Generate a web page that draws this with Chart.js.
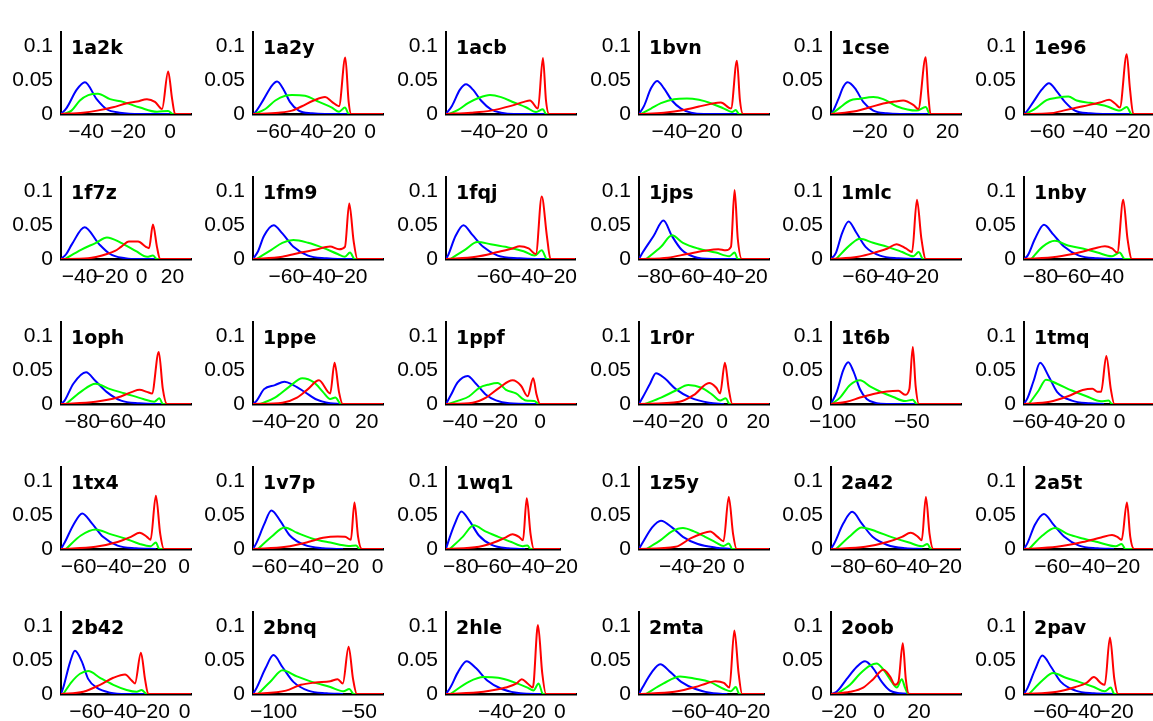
<!DOCTYPE html>
<html>
<head>
<meta charset="utf-8">
<script src="https://cdn.jsdelivr.net/npm/chart.js@4.4.1/dist/chart.umd.min.js"></script>
<style>
  html, body { margin: 0; padding: 0; background: #fff; overflow: hidden; }
  #grid { position: relative; width: 1153px; height: 721px; }
  #grid canvas { position: absolute; }
</style>
</head>
<body>
<div id="grid"></div>
<script>
const panels = ['1a2k', '1a2y', '1acb', '1bvn', '1cse', '1e96',
    '1f7z', '1fm9', '1fqj', '1jps', '1mlc', '1nby',
    '1oph', '1ppe', '1ppf', '1r0r', '1t6b', '1tmq',
    '1tx4', '1v7p', '1wq1', '1z5y', '2a42', '2a5t',
    '2b42', '2bnq', '2hle', '2mta', '2oob', '2pav'];

const xRanges = [[-52, 10], [-73, 8], [-60, 21], [-58, 19], [-40, 27], [-71, -10],
    [-52, 32], [-81, 1], [-90, -10], [-90, -8], [-79, 6], [-90, -11],
    [-93, -14], [-50, 30], [-47, 18], [-46, 26], [-101, -19], [-64, 23],
    [-70, 4], [-69, 3], [-89, -20], [-64.5, 19.5], [-90.5, -10], [-76, -2],
    [-76, 4], [-112, -36], [-71, 10], [-91.5, -12.7], [-24, 41], [-76.6, 3.4]];

const xTicks = [[-40, -20, 0], [-60, -40, -20, 0], [-40, -20, 0], [-40, -20, 0], [-20, 0, 20], [-60, -40, -20],
    [-40, -20, 0, 20], [-60, -40, -20], [-60, -40, -20], [-80, -60, -40, -20], [-60, -40, -20], [-80, -60, -40],
    [-80, -60, -40], [-40, -20, 0, 20], [-40, -20, 0], [-40, -20, 0, 20], [-100, -50], [-60, -40, -20, 0],
    [-60, -40, -20, 0], [-60, -40, -20, 0], [-80, -60, -40, -20], [-40, -20, 0], [-80, -60, -40, -20], [-60, -40, -20],
    [-60, -40, -20, 0], [-100, -50], [-40, -20, 0], [-60, -40, -20], [-20, 0, 20], [-60, -40, -20]];

const yTicks = [0, 0.05, 0.1];

const blue = [
    [[-52,0],[-49.3,0.009],[-44.5,0.036],[-40.6,0.047],[-35,0.022],[-30.2,0.007],[-24,0.002],[-14,0],[2,0]],
    [[-73,0],[-71.8,0.002],[-66.3,0.022],[-61.2,0.042],[-58,0.048],[-53.9,0.036],[-50,0.018],[-44.5,0.005],[-36.2,0.001],[-28,0],[-12,0]],
    [[-60,0],[-56.3,0.012],[-51.3,0.036],[-47.5,0.044],[-43.2,0.036],[-38.2,0.02],[-32,0.007],[-25.7,0.002],[-17.6,0],[2,0]],
    [[-58,0],[-55,0.012],[-50.9,0.038],[-47.3,0.049],[-43.2,0.038],[-38.5,0.02],[-33.1,0.008],[-27.2,0.002],[-19.5,0],[1,0]],
    [[-40,0],[-39.6,0.001],[-36.2,0.022],[-33.7,0.04],[-31.4,0.047],[-27.6,0.038],[-23.4,0.018],[-18.2,0.005],[-11.3,0.001],[-4.5,0],[11,0]],
    [[-71,0],[-70.5,0.001],[-66.6,0.018],[-62.7,0.036],[-59.3,0.0457],[-55.7,0.034],[-51.8,0.018],[-47.1,0.005],[-40,0.001],[-34,0],[-20,0]],
    [[-52,0],[-48.7,0.007],[-44.9,0.022],[-36.8,0.047],[-27.4,0.022],[-20.3,0.0074],[-10.6,0.001],[-6.6,0],[10.2,0]],
    [[-81,0],[-77.8,0.0115],[-74.1,0.034],[-68,0.05],[-62.5,0.038],[-55.5,0.018],[-46.3,0.005],[-34.7,0.001],[-27.4,0],[-12.9,0]],
    [[-90,0],[-88.8,0.005],[-84.1,0.034],[-79.2,0.05],[-73.8,0.036],[-67,0.018],[-58,0.005],[-44.5,0.001],[-34.6,0],[-24.8,0]],
    [[-90,0],[-87.7,0.0095],[-80.8,0.034],[-74.6,0.057],[-69.2,0.034],[-63.1,0.0136],[-55.4,0.0033],[-43.7,0],[-27.7,0]],
    [[-79,0],[-75.7,0.0095],[-71.8,0.038],[-67.5,0.0556],[-62.7,0.04],[-56.4,0.018],[-47,0.005],[-34.8,0.001],[-23.4,0],[-16.2,0]],
    [[-90,0],[-87.8,0.005],[-83.3,0.03],[-77.9,0.0506],[-72.1,0.036],[-65.5,0.018],[-56.6,0.005],[-45.4,0.001],[-35.3,0],[-28,0]],
    [[-93,0],[-90.8,0.005],[-85.5,0.03],[-77.8,0.047],[-72,0.034],[-65.3,0.018],[-56.5,0.005],[-45.3,0.001],[-35.2,0],[-30.5,0]],
    [[-50,0],[-47.7,0.005],[-43.2,0.022],[-36.5,0.028],[-30.6,0.033],[-25.2,0.028],[-18.3,0.018],[-11.6,0.0074],[-2.5,0.001],[4,0]],
    [[-47,0],[-44.5,0.0136],[-41.2,0.032],[-36.2,0.0416],[-32,0.03],[-27,0.0136],[-22,0.0053],[-15.4,0.0012],[-0.5,0]],
    [[-46,0],[-44,0.0095],[-39.9,0.03],[-36.6,0.0457],[-31.8,0.038],[-25.6,0.022],[-17.5,0.0095],[-7.2,0.002],[1,0]],
    [[-101,0],[-97.4,0.0177],[-93.2,0.0506],[-90.1,0.0617],[-86.9,0.0486],[-82.7,0.0218],[-78.5,0.0074],[-72.2,0.0012],[-65.9,0],[-46,0]],
    [[-64,0],[-61.5,0.0095],[-57.6,0.034],[-53.2,0.061],[-47.7,0.042],[-41.9,0.018],[-32,0.005],[-19.8,0.001],[-10.5,0]],
    [[-70,0],[-67.9,0.0095],[-62.9,0.036],[-57.9,0.0527],[-52.4,0.038],[-46.1,0.018],[-37.8,0.005],[-27.3,0.001],[-16,0]],
    [[-69,0],[-67,0.0095],[-62.9,0.036],[-58.8,0.057],[-54,0.042],[-48.6,0.02],[-40.5,0.006],[-30.2,0.001],[-19.1,0]],
    [[-89,0],[-87.8,0.0095],[-83.9,0.036],[-79.7,0.0556],[-74.9,0.042],[-69.1,0.02],[-61.4,0.006],[-51.5,0.001],[-41.2,0]],
    [[-64.5,0],[-62.1,0.0095],[-56,0.032],[-50.3,0.042],[-43.2,0.032],[-36.1,0.018],[-26.5,0.0074],[-14.7,0.002],[-5.1,0]],
    [[-90.5,0],[-88.2,0.0095],[-82.8,0.038],[-77.3,0.055],[-71.4,0.038],[-64.6,0.018],[-55.4,0.006],[-44,0.001],[-33.6,0]],
    [[-76,0],[-73.9,0.0095],[-69.8,0.036],[-64.7,0.052],[-59.2,0.036],[-53,0.018],[-44.7,0.005],[-34.2,0.001],[-24.8,0]],
    [[-76,0],[-74.6,0.0095],[-70.5,0.0465],[-67.4,0.064],[-63.3,0.0486],[-59.2,0.022],[-54,0.0095],[-45.9,0.002],[-35.6,0],[-22,0]],
    [[-112,0],[-109.8,0.0095],[-104.7,0.038],[-100,0.0576],[-94.8,0.04],[-88.4,0.018],[-79.8,0.005],[-69,0.001],[-59.3,0]],
    [[-71,0],[-68.3,0.0095],[-63.6,0.032],[-58.2,0.0486],[-52.2,0.038],[-45.3,0.02],[-36.2,0.0074],[-24.7,0.001],[-11.8,0]],
    [[-91.5,0],[-89.3,0.0095],[-83.5,0.032],[-78.2,0.044],[-71.5,0.032],[-64.9,0.018],[-55.9,0.0074],[-44.7,0.001],[-35.8,0]],
    [[-24,0],[-21.2,0.0033],[-16.2,0.022],[-11.2,0.04],[-7,0.0486],[-2.9,0.038],[1.4,0.018],[5.5,0.005],[10.5,0.001],[16,0]],
    [[-76.6,0],[-74.3,0.0095],[-69.8,0.036],[-65.3,0.057],[-59.9,0.04],[-53.9,0.018],[-44.9,0.005],[-33.6,0.001],[-21.2,0]]
];

const green = [
    [[-51,0],[-47,0.005],[-43,0.02],[-39,0.028],[-34.4,0.03],[-28.6,0.022],[-22.4,0.018],[-14.3,0.0095],[-6.2,0.0033],[-0.9,0.0045],[1.4,0],[10,0]],
    [[-72,0],[-65.3,0.0074],[-59.1,0.02],[-52.9,0.027],[-48.7,0.028],[-40.6,0.027],[-31.9,0.018],[-23.8,0.0095],[-19.4,0.0033],[-15.7,0.0095],[-13.2,0],[8,0]],
    [[-58.1,0],[-52.5,0.006],[-46.3,0.016],[-39.4,0.024],[-32.6,0.028],[-25.7,0.025],[-17.6,0.017],[-10.2,0.01],[-3.9,0.003],[0.4,0.007],[2.3,0],[21,0]],
    [[-56.8,0],[-50.9,0.008],[-45,0.016],[-37.3,0.022],[-29.6,0.023],[-22.5,0.021],[-15.4,0.016],[-7.7,0.008],[-2.9,0.003],[-0.6,0.006],[1.2,0],[19,0]],
    [[-39.6,0],[-35.4,0.0095],[-30.2,0.02],[-25.1,0.0226],[-18.2,0.025],[-13.1,0.022],[-6.2,0.0115],[4.1,0.005],[8.8,0.0103],[11,0],[27,0]],
    [[-70.1,0],[-65,0.0095],[-60.4,0.0206],[-55.7,0.024],[-50.2,0.026],[-46.3,0.02],[-40,0.0165],[-32.2,0.0115],[-26,0.005],[-22.8,0.0103],[-20.5,0],[-10,0]],
    [[-49.4,0],[-39.1,0.0136],[-29.4,0.024],[-22.3,0.032],[-13.2,0.024],[-3.5,0.0115],[3.6,0.0033],[7.4,0.005],[10,0],[32,0]],
    [[-78.7,0],[-69.4,0.0136],[-62.5,0.024],[-55.5,0.028],[-46.3,0.024],[-36.8,0.0165],[-27.6,0.0074],[-23,0.0033],[-19.8,0.0095],[-16.9,0],[1,0]],
    [[-87.3,0],[-78.3,0.0136],[-70.6,0.025],[-62.4,0.022],[-53.3,0.018],[-42,0.0115],[-35.2,0.005],[-30.8,0.0128],[-27.6,0],[-10,0]],
    [[-85.4,0],[-76.1,0.018],[-69.2,0.035],[-62.3,0.024],[-52.8,0.0156],[-41.5,0.0095],[-33,0.0041],[-29.7,0.0095],[-27.7,0],[-8,0]],
    [[-75.7,0],[-65.9,0.022],[-60.2,0.03],[-51.5,0.024],[-42,0.018],[-32.4,0.0103],[-25.1,0.0041],[-21.7,0.0103],[-18.8,0],[6,0]],
    [[-85.5,0],[-78.8,0.018],[-71.2,0.027],[-63.3,0.02],[-54.3,0.0156],[-45.4,0.0095],[-36.5,0.0041],[-31.9,0.0095],[-28.8,0],[-11,0]],
    [[-89.9,0],[-81,0.018],[-72,0.03],[-63.1,0.022],[-54.1,0.0156],[-43,0.0074],[-36.3,0.0033],[-33.2,0.0086],[-31.1,0],[-14,0]],
    [[-45.4,0],[-36.5,0.0095],[-27.4,0.026],[-19.7,0.038],[-12.5,0.032],[-7,0.018],[-2.5,0.0074],[0.7,0.0095],[4.1,0],[30,0]],
    [[-46.2,0],[-40.4,0.0053],[-35.4,0.0115],[-30.4,0.024],[-25.4,0.029],[-21.2,0.031],[-17,0.021],[-12,0.0156],[-7,0.0053],[-2.9,0.0045],[-0.4,0],[18,0]],
    [[-42.7,0],[-33.8,0.0095],[-25.6,0.02],[-18.7,0.028],[-11.4,0.024],[-5.3,0.0136],[-1.1,0.0053],[2.1,0.0086],[4.1,0],[26,0]],
    [[-100.6,0],[-95.3,0.0095],[-89,0.028],[-82.7,0.035],[-76.4,0.026],[-70.1,0.0185],[-61.7,0.0103],[-54.3,0.0045],[-49.4,0.0062],[-46.9,0],[-19,0]],
    [[-60.7,0],[-54.2,0.02],[-49.3,0.036],[-41.9,0.03],[-32,0.02],[-22.2,0.0115],[-12.4,0.0041],[-7.4,0.005],[-5.1,0],[23,0]],
    [[-67.2,0],[-58.7,0.02],[-50.3,0.029],[-41.9,0.022],[-33.6,0.0156],[-25.2,0.0074],[-19,0.0041],[-16,0.0095],[-14,0],[4,0]],
    [[-66.2,0],[-58.8,0.018],[-51.5,0.032],[-44.6,0.024],[-36.4,0.0156],[-26.2,0.0095],[-16,0.0045],[-11.9,0.0053],[-9.9,0],[3,0]],
    [[-86.7,0],[-78.9,0.018],[-72.2,0.035],[-65.2,0.026],[-57.4,0.018],[-49.5,0.0103],[-42.5,0.0041],[-39.8,0.0053],[-37.9,0],[-20,0]],
    [[-59.7,0],[-50.3,0.0136],[-43.2,0.026],[-36.1,0.031],[-29,0.026],[-21.8,0.018],[-14.7,0.0095],[-9.9,0.0045],[-6.5,0.0082],[-4.2,0],[19.5,0]],
    [[-87.4,0],[-78.2,0.02],[-71.4,0.032],[-62.3,0.026],[-53.2,0.018],[-41.9,0.0095],[-33.7,0.0041],[-30.5,0.0074],[-28.2,0],[-10,0]],
    [[-73.1,0],[-65.5,0.02],[-58.4,0.031],[-51,0.022],[-42.6,0.0156],[-34.2,0.0103],[-23.8,0.0041],[-20.4,0.0074],[-18.3,0],[-2,0]],
    [[-74.6,0],[-69.4,0.018],[-64.3,0.03],[-59.2,0.034],[-52,0.024],[-43.8,0.0136],[-35.6,0.006],[-29.4,0.0033],[-26.4,0.006],[-23.3,0],[4,0]],
    [[-109.1,0],[-101.2,0.02],[-94.8,0.035],[-86.3,0.026],[-77.6,0.018],[-66.8,0.0103],[-59.1,0.0041],[-55.7,0.0074],[-53.1,0],[-36,0]],
    [[-68.3,0],[-56.8,0.018],[-47.6,0.025],[-38.5,0.024],[-29.3,0.018],[-20.2,0.0095],[-16.5,0.0053],[-13.3,0.0156],[-10.6,0],[10,0]],
    [[-87.1,0],[-76,0.0156],[-65.7,0.026],[-55.9,0.0226],[-47,0.018],[-38,0.0074],[-33.6,0.0041],[-30.5,0.0103],[-28.3,0],[-12.7,0]],
    [[-21.2,0],[-14.5,0.0136],[-9.5,0.03],[-4.5,0.042],[-1.2,0.0453],[2.2,0.036],[6.4,0.018],[8.9,0.0095],[11.4,0.022],[13,0.0095],[14.7,0],[41,0]],
    [[-73.5,0],[-65.3,0.02],[-58.6,0.031],[-50.9,0.024],[-42.8,0.018],[-33.6,0.0103],[-26.9,0.0041],[-23.2,0.0095],[-21,0],[3.4,0]]
];

const red = [
    [[-52,0],[-41.5,0.002],[-34.8,0.005],[-27.2,0.01],[-20.5,0.016],[-15.7,0.0185],[-11,0.022],[-7.2,0.018],[-3.8,0.0074],[-0.9,0.063],[1,0.022],[2.4,0],[10,0]],
    [[-73,0],[-57,0.002],[-48.7,0.005],[-42.5,0.0115],[-35.2,0.02],[-28.1,0.025],[-23.8,0.018],[-19.4,0.0115],[-15.5,0.0835],[-13.4,0.018],[-11.8,0],[8,0]],
    [[-60,0],[-44.4,0.002],[-32,0.005],[-19.5,0.012],[-11.4,0.018],[-7.7,0.02],[-2.7,0.008],[0.4,0.083],[2.3,0.02],[4.2,0],[21,0]],
    [[-58,0],[-43.2,0.002],[-31.4,0.006],[-22.5,0.011],[-15.4,0.015],[-9.5,0.017],[-3.5,0.008],[0,0.079],[1.8,0.02],[3.6,0],[19,0]],
    [[-40,0],[-26.8,0.0045],[-19.9,0.01],[-13.1,0.0156],[-7,0.0185],[-2.8,0.02],[2.4,0.0136],[5,0.0074],[8.8,0.084],[10.1,0.03],[11.3,0],[27,0]],
    [[-71,0],[-58.8,0.001],[-52.6,0.005],[-43.2,0.0115],[-35.4,0.017],[-31,0.021],[-28.3,0.0156],[-26,0.0095],[-22.8,0.0885],[-21.3,0.038],[-19.7,0],[-10,0]],
    [[-52,0],[-34.5,0.001],[-22.3,0.0074],[-17.1,0.012],[-13.2,0.018],[-8.1,0.026],[-2.2,0.026],[2.9,0.018],[4.9,0.016],[7.4,0.051],[10,0.018],[12,0],[32,0]],
    [[-81,0],[-62.5,0.0033],[-50.8,0.0095],[-41.6,0.0136],[-32.4,0.0185],[-26.7,0.0144],[-23,0.018],[-20.3,0.082],[-17.5,0.026],[-15.1,0],[1,0]],
    [[-90,0],[-71.5,0.0033],[-58,0.0103],[-48.8,0.0156],[-44.5,0.019],[-38.9,0.0156],[-34.4,0.0074],[-30.8,0.0926],[-27.6,0.034],[-25.4,0],[-10,0]],
    [[-90,0],[-71.8,0.002],[-59.7,0.0074],[-48.4,0.0123],[-39.9,0.0144],[-35.3,0.0128],[-32,0.018],[-29.7,0.102],[-27.7,0.03],[-25.1,0],[-8,0]],
    [[-79,0],[-61.3,0.0033],[-49.2,0.0103],[-42,0.0156],[-36.2,0.022],[-30,0.0156],[-26,0.0103],[-22.8,0.0877],[-19.9,0.03],[-17,0],[6,0]],
    [[-90,0],[-70,0.0033],[-56.6,0.0095],[-47.5,0.0156],[-40.8,0.019],[-36.5,0.0156],[-33.3,0.0095],[-29.7,0.0877],[-27.1,0.03],[-24.4,0],[-11,0]],
    [[-93,0],[-72,0.0033],[-58.7,0.0095],[-49.7,0.018],[-45.3,0.021],[-40.8,0.018],[-37.7,0.0156],[-33.6,0.077],[-31.1,0.022],[-28.6,0],[-14,0]],
    [[-50,0],[-31.9,0.002],[-22.9,0.0095],[-16.2,0.022],[-9.4,0.035],[-3.9,0.018],[-2.5,0.0156],[0.2,0.061],[2.9,0.018],[5.2,0],[30,0]],
    [[-47,0],[-33.7,0.002],[-27,0.0095],[-20.4,0.024],[-13.7,0.035],[-9.5,0.027],[-6.2,0.0115],[-3.4,0.038],[-1.7,0.0136],[0,0],[18,0]],
    [[-46,0],[-23.6,0.0033],[-15.5,0.0136],[-7.2,0.031],[-3.2,0.024],[-1.1,0.0156],[1.6,0.061],[3.7,0.022],[5.7,0],[26,0]],
    [[-101,0],[-91.1,0.0033],[-82.7,0.0095],[-74.3,0.0148],[-65.9,0.0185],[-58.5,0.0198],[-54.3,0.0136],[-51.6,0.0218],[-49.4,0.0844],[-47.6,0.026],[-45.5,0],[-19,0]],
    [[-64,0],[-46.8,0.0033],[-34.6,0.0115],[-24.7,0.0206],[-18.2,0.0226],[-14.8,0.018],[-12.4,0.018],[-8.9,0.071],[-5.9,0.022],[-3.5,0],[23,0]],
    [[-70,0],[-50.3,0.0033],[-37.8,0.0103],[-30.2,0.018],[-25.2,0.024],[-21.1,0.018],[-19,0.0136],[-16,0.079],[-13.5,0.022],[-11.4,0],[4,0]],
    [[-69,0],[-50.7,0.0033],[-38.5,0.0103],[-30.2,0.0165],[-22.1,0.0185],[-18,0.018],[-14.8,0.0136],[-12.8,0.069],[-10.8,0.018],[-8.7,0],[3,0]],
    [[-89,0],[-69.1,0.0033],[-59.3,0.0103],[-53.5,0.0165],[-48.8,0.022],[-44.9,0.018],[-42.5,0.0128],[-40.2,0.075],[-37.9,0.022],[-35.9,0],[-20,0]],
    [[-64.5,0],[-40.8,0.0033],[-31.2,0.0156],[-24.1,0.0226],[-18.5,0.026],[-13.7,0.018],[-9.9,0.0115],[-6.5,0.077],[-3.7,0.022],[-1.4,0],[19.5,0]],
    [[-90.5,0],[-69.1,0.0033],[-55.4,0.0103],[-46.3,0.018],[-40.9,0.024],[-36.3,0.018],[-34,0.0128],[-31.4,0.077],[-29.1,0.022],[-26.8,0],[-10,0]],
    [[-76,0],[-57.3,0.0033],[-42.6,0.0103],[-32.1,0.017],[-25.9,0.0206],[-22.9,0.018],[-20.4,0.0136],[-17.4,0.069],[-15.5,0.018],[-13.3,0],[-2,0]],
    [[-76,0],[-62.3,0.0033],[-52,0.0136],[-43.8,0.024],[-36.6,0.029],[-32.5,0.02],[-30.5,0.0156],[-26.8,0.061],[-24.3,0.022],[-22.3,0],[4,0]],
    [[-112,0],[-92.7,0.005],[-84,0.0136],[-75.4,0.017],[-66.8,0.019],[-62.5,0.022],[-59.5,0.0156],[-56.1,0.07],[-53.5,0.022],[-51.3,0],[-36,0]],
    [[-71,0],[-47.6,0.0033],[-33.9,0.0095],[-27,0.0156],[-23.8,0.022],[-20.2,0.0156],[-16.9,0.0095],[-13.7,0.102],[-11,0.03],[-8.7,0],[10,0]],
    [[-91.5,0],[-69.2,0.0033],[-55.9,0.0103],[-49.1,0.0156],[-43.4,0.019],[-38,0.0165],[-34.5,0.0095],[-31.4,0.094],[-28.7,0.03],[-26.5,0],[-12.7,0]],
    [[-24,0],[-14.5,0.0033],[-7.9,0.0095],[-2.9,0.022],[2.2,0.036],[5.5,0.026],[8,0.0136],[9.7,0.018],[11.9,0.075],[13.4,0.022],[15,0],[41,0]],
    [[-76.6,0],[-56.3,0.0033],[-44.9,0.0103],[-38.1,0.0165],[-33.6,0.025],[-29.1,0.0156],[-26.9,0.0136],[-23.7,0.0835],[-21,0.022],[-18.7,0],[3.4,0]]
];

// layout of the 6x5 grid (y axis x-position per column, top of canvas per row)
const colAxis = [61, 253, 446, 639, 831, 1024];
const rowTop = [11, 156, 301, 446, 591];
const yAxisW = 60, xAxisH = 32, padTop = 4, plotW = 130, plotH = 99;

const tickFont = { family: '"Liberation Sans", Arial, Helvetica, sans-serif', size: 21 };

const panelTitle = {
    id: 'panelTitle',
    afterDraw(chart, args, opts) {
        const { ctx, chartArea } = chart;
        ctx.save();
        ctx.font = 'bold 19px "DejaVu Sans", sans-serif';
        ctx.fillStyle = '#000';
        ctx.textBaseline = 'alphabetic';
        ctx.fillText(opts.text, chartArea.left + 10, chartArea.top + 22);
        ctx.restore();
    }
};

const fmt = v => (v < 0 ? '\u2212' + Math.abs(v) : String(v));

const grid = document.getElementById('grid');

panels.forEach((name, i) => {
    const col = i % 6, row = Math.floor(i / 6);
    const cv = document.createElement('canvas');
    cv.width = yAxisW + plotW + 8;
    cv.height = padTop + plotH + xAxisH;
    cv.style.left = (colAxis[col] - yAxisW) + 'px';
    cv.style.top = rowTop[row] + 'px';
    grid.appendChild(cv);

    const line = (pts, color) => ({
        data: pts,
        borderColor: color,
        borderWidth: 2,
        pointRadius: 0,
        fill: false,
        cubicInterpolationMode: 'monotone'
    });

    new Chart(cv, {
        type: 'line',
        data: {
            datasets: [
                line(red[i], '#ff0000'),
                line(green[i], '#00ff00'),
                line(blue[i], '#0000ff')
            ]
        },
        options: {
            responsive: false,
            animation: false,
            events: [],
            layout: { padding: { top: padTop, right: 8, left: 0, bottom: 0 } },
            plugins: {
                legend: { display: false },
                tooltip: { enabled: false },
                panelTitle: { text: name }
            },
            scales: {
                x: {
                    type: 'linear',
                    min: xRanges[i][0],
                    max: xRanges[i][1],
                    grid: { display: false, drawTicks: false },
                    border: { display: true, color: '#000', width: 2.5 },
                    ticks: {
                        font: tickFont, color: '#000', padding: 6,
                        autoSkip: false, maxRotation: 0, minRotation: 0,
                        callback: fmt
                    },
                    afterBuildTicks: s => { s.ticks = xTicks[i].map(v => ({ value: v })); },
                    afterFit: s => { s.height = xAxisH; }
                },
                y: {
                    min: 0,
                    max: 0.122,
                    grid: { display: false, drawTicks: false },
                    border: { display: true, color: '#000', width: 2 },
                    ticks: {
                        font: tickFont, color: '#000', padding: 8,
                        callback: v => String(v)
                    },
                    afterBuildTicks: s => { s.ticks = yTicks.map(v => ({ value: v })); },
                    afterFit: s => { s.width = yAxisW; }
                }
            }
        },
        plugins: [panelTitle]
    });
});
</script>
</body>
</html>
